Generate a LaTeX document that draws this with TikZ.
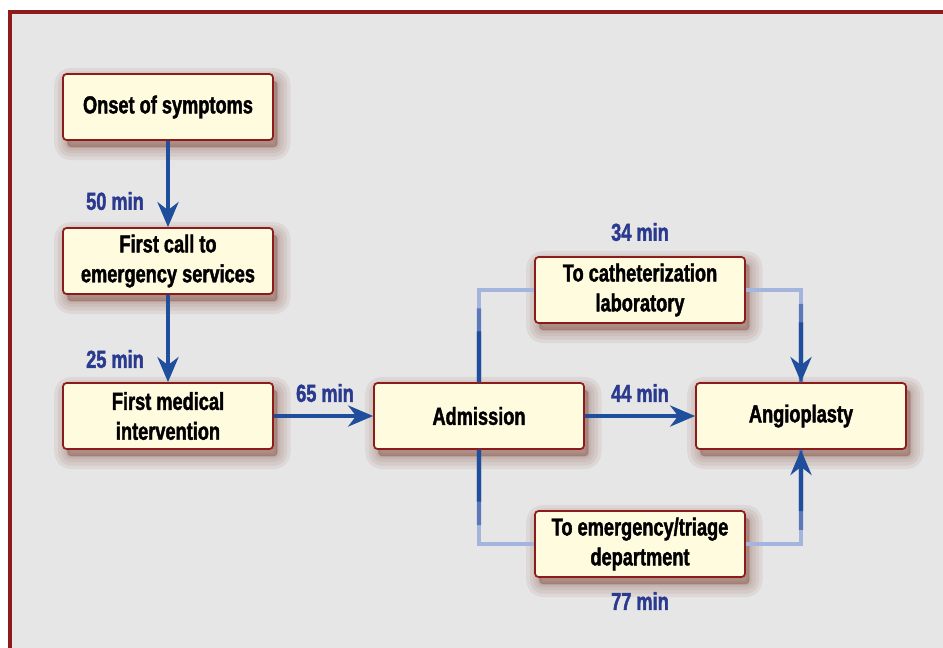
\documentclass[tikz,border=0pt]{standalone}
\usepackage{fontspec}
\setmainfont{Liberation Sans}[FakeStretch=0.74, BoldFeatures={FakeBold=1.6}]
\usetikzlibrary{arrows.meta,shadows,calc}

\definecolor{boxfill}{HTML}{FFFBDF}
\definecolor{boxline}{HTML}{8E1B1B}
\definecolor{flowblue}{HTML}{1F4E9C}
\definecolor{flowmid}{HTML}{5C78B8}
\definecolor{flowpale}{HTML}{A3B5DC}
\definecolor{minblue}{HTML}{2A3A8F}
\definecolor{panel}{HTML}{E6E6E6}
\definecolor{shadowred}{HTML}{6A2614}

\begin{document}
\begin{tikzpicture}[x=0.02cm, y=-0.02cm,
	halo/.style={general shadow={fill=shadowred, draw=shadowred, line width=#1, line join=round, opacity=0.07, shadow xshift=2.5pt, shadow yshift=-4pt}},
	stepbox/.style={
		rectangle, minimum width=4.2cm, minimum height=1.32cm, rounded corners=2pt,
		align=center, fill=boxfill, draw=boxline, line width=1pt,
		font=\fontsize{14}{17}\selectfont\bfseries,
		halo=15pt, halo=11pt, halo=7pt, halo=3.5pt, halo=1pt},
	mins/.style={text=minblue, font=\fontsize{14}{17}\selectfont\bfseries},
	flow/.style={line width=2.4pt, draw=flowblue},
	mid/.style={line width=2.4pt, draw=flowmid},
	pale/.style={line width=2.4pt, draw=flowpale},
	tip/.style={-{Stealth[length=0.5cm, width=0.42cm, inset=0.16cm]}}]
	\useasboundingbox (0,0) rectangle (943,647);
	% panel and frame
	\fill[panel] (10,12) rectangle (960,660);
	\draw[boxline, line width=2pt] (10,660) -- (10,12) -- (960,12);

	% steps
	\node[stepbox] (onset) at (168,107) {Onset of symptoms};
	\node[stepbox] (call) at (168,261) {First call to\\emergency services};
	\node[stepbox] (medical) at (168,416) {First medical\\intervention};
	\node[stepbox] (admission) at (479,416) {Admission};
	\node[stepbox] (angio) at (801,416) {Angioplasty};
	\node[stepbox] (cath) at (640,290) {To catheterization\\laboratory};
	\node[stepbox] (triage) at (640,544) {To emergency/triage\\department};

	% times
	\node[mins] (t50) at (115,201) {50 min};
	\node[mins] (t25) at (115,359) {25 min};
	\node[mins] (t65) at (325,393) {65 min};
	\node[mins] (t34) at (640,232) {34 min};
	\node[mins] (t44) at (640,393) {44 min};
	\node[mins] (t77) at (640,601) {77 min};

	\coordinate (upl) at (admission.north |- cath.west);
	\coordinate (upr) at (angio.north |- cath.east);
	\coordinate (dnl) at (admission.south |- triage.west);
	\coordinate (dnr) at (angio.south |- triage.east);

	% straight flows
	\draw[flow, tip] (onset) -- (call);
	\draw[flow, tip] (call) -- (medical);
	\draw[flow, tip] (medical) -- (admission);
	\draw[flow, tip] (admission) -- (angio);

	% via the catheterization laboratory
	\draw[pale] (admission.north) -- (upl) -- (cath.west);
	\draw[mid] (admission.north) -- ($(admission.north)!0.8!(upl)$);
	\draw[flow] (admission.north) -- ($(admission.north)!0.55!(upl)$);
	\draw[pale] (cath.east) -- (upr) -- (angio.north);
	\draw[mid] ($(upr)!0.15!(angio.north)$) -- (angio.north);
	\draw[flow, tip] ($(upr)!0.35!(angio.north)$) -- (angio.north);

	% via the emergency department
	\draw[pale] (admission.south) -- (dnl) -- (triage.west);
	\draw[mid] (admission.south) -- ($(admission.south)!0.8!(dnl)$);
	\draw[flow] (admission.south) -- ($(admission.south)!0.55!(dnl)$);
	\draw[pale] (triage.east) -- (dnr) -- (angio.south);
	\draw[mid] ($(dnr)!0.15!(angio.south)$) -- (angio.south);
	\draw[flow, tip] ($(dnr)!0.35!(angio.south)$) -- (angio.south);
\end{tikzpicture}
\end{document}
